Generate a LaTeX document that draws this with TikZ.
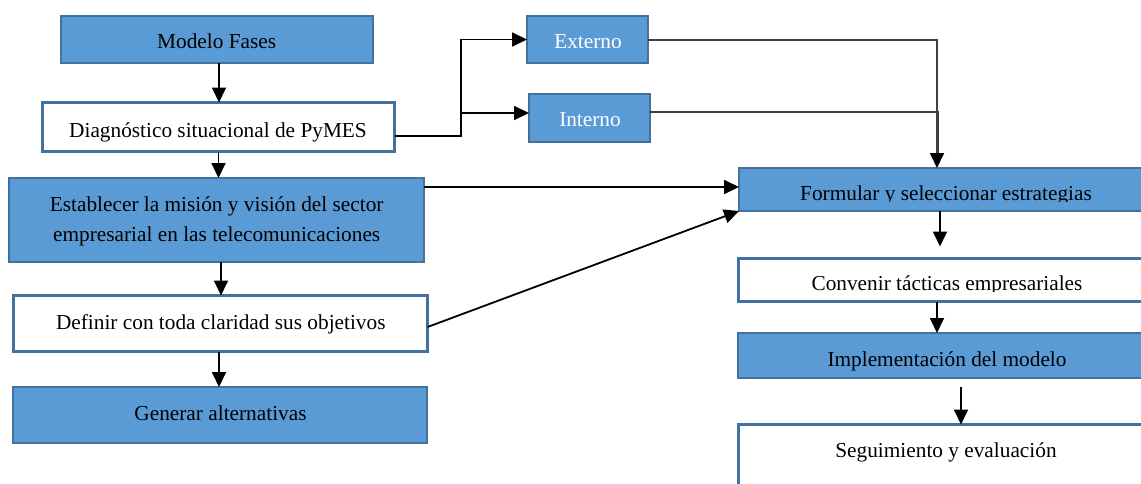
\documentclass[tikz,border=0pt]{standalone}
\usepackage{fontspec}
\setmainfont{Liberation Serif}
\usetikzlibrary{arrows.meta}
\definecolor{boxblue}{HTML}{5B9BD5}
\definecolor{boxline}{HTML}{41719C}
\definecolor{wiregray}{HTML}{404040}
\begin{document}
\begin{tikzpicture}[x=1pt,y=-1pt,
  bluebox/.style={draw=boxline,fill=boxblue,line width=1.8pt,inner sep=0pt,outer sep=0pt},
  whitebox/.style={draw=boxline,fill=white,line width=3pt,inner sep=0pt,outer sep=0pt},
  txt/.style={anchor=base,inner sep=0pt,font=\fontsize{21.3}{30}\selectfont},
  wtxt/.style={txt,text=white},
  arr/.style={line width=1.8pt,-{Triangle[width=14pt,length=15pt,color=black]}},
  wire/.style={line width=1.8pt}]
\clip (0,0) rectangle (1141,483);
\fill[white] (0,0) rectangle (1141,483);

% left column
\node[bluebox, minimum width=312pt, minimum height=47pt] (modelo) at (217,39.5) {};
\node[whitebox, minimum width=352pt, minimum height=49pt] (diag) at (218.5,127) {};
\node[bluebox, minimum width=415pt, minimum height=84pt] (estab) at (216.5,220) {};
\node[whitebox, minimum width=414pt, minimum height=56pt] (def) at (220.5,323.5) {};
\node[bluebox, minimum width=414pt, minimum height=56pt] (gen) at (220,415) {};

% diagnosis branches
\node[bluebox, minimum width=121pt, minimum height=47pt] (ext) at (587.5,39.5) {};
\node[bluebox, minimum width=121pt, minimum height=48pt] (int) at (589.5,118) {};

% right column
\node[bluebox, minimum width=410pt, minimum height=43pt] (form) at (944,189.5) {};
\node[whitebox, minimum width=410pt, minimum height=43pt] (conv) at (943.5,280) {};
\node[bluebox, minimum width=411pt, minimum height=45pt] (impl) at (943.5,355.5) {};
\node[whitebox, minimum width=410pt, minimum height=104pt] (seg) at (943.5,476.5) {};

% labels
\node[txt] (modelo-t) at (216.7,48) {Modelo Fases};
\node[txt] (diag-t) at (218,137) {Diagnóstico situacional de PyMES};
\node[txt] (estab-t1) at (216.7,211) {Establecer la misión y visión del sector};
\node[txt] (estab-t2) at (216.7,241) {empresarial en las telecomunicaciones};
\node[txt] (def-t) at (220.8,329) {Definir con toda claridad sus objetivos};
\node[txt] (gen-t) at (220.5,420) {Generar alternativas};
\node[wtxt] (ext-t) at (588,48) {Externo};
\node[wtxt] (int-t) at (590,126) {Interno};
\begin{scope}
  \clip (700,150) rectangle (1141,201.5);
  \node[txt] (form-t) at (946,200) {Formular y seleccionar estrategias};
\end{scope}
\begin{scope}
  \clip (700,250) rectangle (1141,291.5);
  \node[txt] (conv-t) at (947,290) {Convenir tácticas empresariales};
\end{scope}
\node[txt] (impl-t) at (947,366) {Implementación del modelo};
\node[txt] (seg-t) at (946,457) {Seguimiento y evaluación};

% vertical flow, left
\draw[arr] ([xshift=2pt]modelo.south) -- ([xshift=2pt]modelo.south |- diag.north);
\draw[arr] (diag.south) -- (diag.south |- estab.north);
\draw[arr] ([xshift=4.5pt]estab.south) -- ([xshift=4.5pt]estab.south |- def.north);
\draw[arr] ([xshift=-1.5pt]def.south) -- ([xshift=-1.5pt]def.south |- gen.north);

% fork to external / internal
\coordinate (fork) at (461,0);
\draw[arr] ([yshift=-9pt]diag.east) -| (fork |- ext.west) -- (ext.west);
\draw[arr] ([yshift=5pt]fork |- int.west) -- ([yshift=5pt]int.west);

% into strategy formulation
\draw[wire, wiregray] ([yshift=6pt]int.east) -| ([xshift=-6pt,yshift=14pt]form.north);
\draw[arr, wiregray] ([yshift=-0.5pt]ext.east) -| ([xshift=-7pt]form.north);
\draw[arr] ([yshift=33pt]estab.east) -- ([yshift=33pt]estab.east -| form.west);
\draw[arr] ([yshift=-3.5pt]def.east) -- (form.south west);

% vertical flow, right
\draw[arr, shorten >=12pt] ([xshift=-4pt]form.south) -- ([xshift=-4pt]form.south |- conv.north);
\draw[arr] ([xshift=-6.5pt]conv.south) -- ([xshift=-6.5pt]conv.south |- impl.north);
\draw[arr, shorten <=9pt] ([xshift=17.5pt]impl.south) -- ([xshift=17.5pt]impl.south |- seg.north);
\end{tikzpicture}
\end{document}
